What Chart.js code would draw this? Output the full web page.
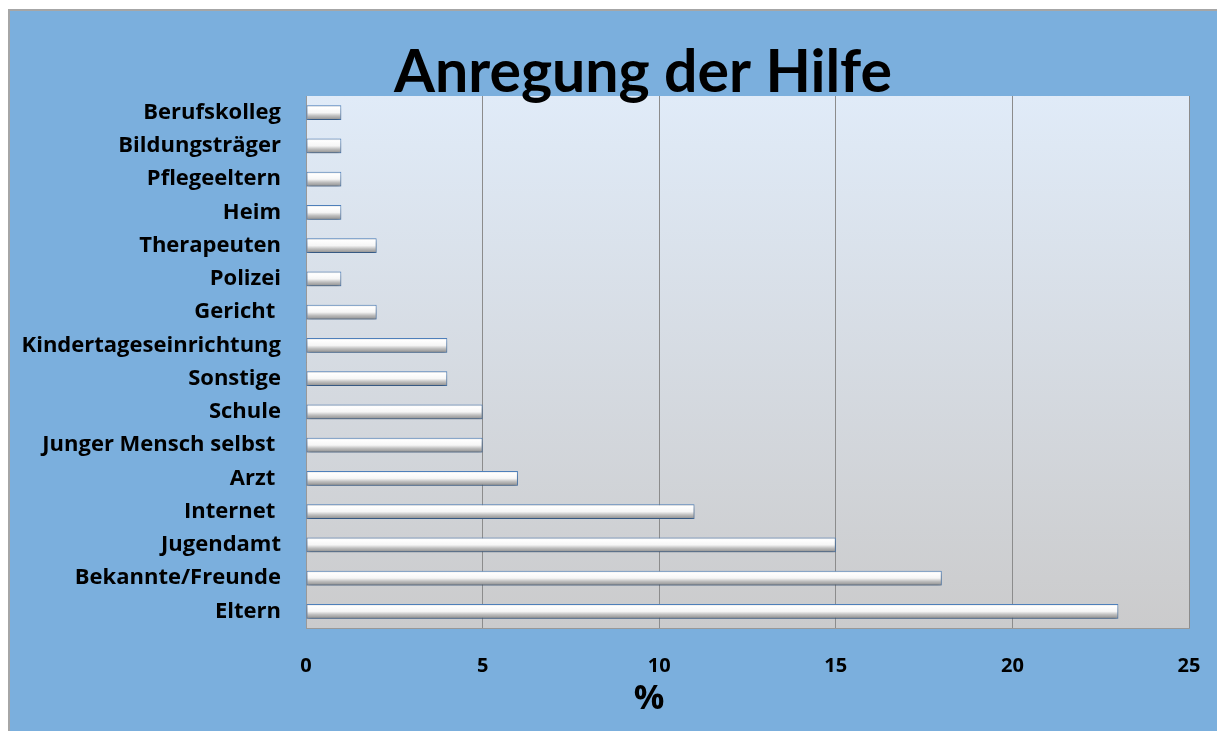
<!DOCTYPE html>
<html>
<head>
<meta charset="utf-8">
<script src="https://cdn.jsdelivr.net/npm/chart.js@4/dist/chart.umd.min.js"></script>
<style>
  html, body { margin: 0; padding: 0; background: #fff; }
  canvas { display: block; }
</style>
</head>
<body>
<canvas id="myChart" width="1217" height="731"></canvas>
<script>
const titleText = "Anregung der Hilfe";
const axisTitle = "%";

const categories = [
  "Berufskolleg",
  "Bildungsträger",
  "Pflegeeltern",
  "Heim",
  "Therapeuten",
  "Polizei",
  "Gericht ",
  "Kindertageseinrichtung",
  "Sonstige",
  "Schule",
  "Junger Mensch selbst ",
  "Arzt ",
  "Internet ",
  "Jugendamt",
  "Bekannte/Freunde",
  "Eltern",
];
const values = [1, 1, 1, 1, 2, 1, 2, 4, 4, 5, 5, 6, 11, 15, 18, 23];
const xTicks = [0, 5, 10, 15, 20, 25];

const TITLE_FONT = "Lato, 'Open Sans', sans-serif";
const FONT = "'Open Sans', Lato, sans-serif";

const backdrop = {
  id: "backdrop",
  beforeDraw(chart) {
    const { ctx, chartArea: a } = chart;
    ctx.save();
    ctx.fillStyle = "#ffffff";
    ctx.fillRect(0, 0, chart.width, chart.height);
    ctx.fillStyle = "#7bafdd";
    ctx.fillRect(9, 10, chart.width - 9, chart.height - 10);
    ctx.strokeStyle = "#a6a6a6";
    ctx.lineWidth = 2;
    ctx.beginPath();
    ctx.moveTo(9, chart.height);
    ctx.lineTo(9, 10);
    ctx.lineTo(chart.width, 10);
    ctx.stroke();
    const g = ctx.createLinearGradient(0, a.top, 0, a.bottom);
    g.addColorStop(0, "#e0ebf8");
    g.addColorStop(1, "#cbcbcc");
    ctx.fillStyle = g;
    ctx.fillRect(a.left, a.top, a.right - a.left, a.bottom - a.top);
    ctx.restore();
  },
  beforeDatasetsDraw(chart) {
    const ctx = chart.ctx;
    ctx.save();
    ctx.shadowColor = "rgba(0,0,0,0.35)";
    ctx.shadowBlur = 4;
    ctx.shadowOffsetY = 3;
  },
  afterDatasetsDraw(chart) {
    chart.ctx.restore();
  },
  afterDraw(chart) {
    const ctx = chart.ctx;
    ctx.save();
    ctx.fillStyle = "#000";
    ctx.textAlign = "center";
    ctx.textBaseline = "alphabetic";
    ctx.font = "bold 59px " + TITLE_FONT;
    ctx.fillText(titleText, 643, 92);
    ctx.font = "bold 34px " + FONT;
    ctx.textBaseline = "middle";
    ctx.fillText(axisTitle, 649, 699);
    ctx.restore();
  },
};

function barFill(c) {
  const chart = c.chart;
  if (!chart.chartArea || !chart.scales.y) return "#e6e6e6";
  const y = chart.scales.y.getPixelForValue(c.dataIndex);
  const g = chart.ctx.createLinearGradient(0, y - 7.5, 0, y + 7.5);
  g.addColorStop(0, "#d0d0d0");
  g.addColorStop(0.15, "#ffffff");
  g.addColorStop(0.5, "#f6f6f6");
  g.addColorStop(0.72, "#bdbdbd");
  g.addColorStop(1, "#8a8a8a");
  return g;
}

new Chart(document.getElementById("myChart"), {
  type: "bar",
  data: {
    labels: categories,
    datasets: [
      {
        data: values,
        backgroundColor: barFill,
        borderColor: "#4f81bd",
        borderWidth: 1,
        borderSkipped: false,
        barPercentage: 0.45,
        categoryPercentage: 1,
      },
    ],
  },
  options: {
    indexAxis: "y",
    responsive: false,
    animation: false,
    devicePixelRatio: 1,
    layout: { padding: { left: 0, right: 28, top: 96, bottom: 0 } },
    plugins: {
      legend: { display: false },
      title: { display: false },
      tooltip: { enabled: false },
    },
    scales: {
      x: {
        min: 0,
        max: 25,
        afterBuildTicks(s) {
          s.ticks = xTicks.map((v) => ({ value: v }));
        },
        afterFit(s) {
          s.height = 103;
          s.paddingLeft = 0;
          s.paddingRight = 0;
        },
        grid: { color: "#8c8c8c", lineWidth: 1, drawTicks: false },
        border: { display: true, color: "#999999", width: 1 },
        ticks: {
          color: "#000",
          padding: 26,
          font: { family: FONT, size: 20, weight: "bold" },
        },
      },
      y: {
        afterFit(s) {
          s.width = 306;
          s.paddingTop = 0;
          s.paddingBottom = 0;
        },
        grid: { display: false, drawTicks: false },
        border: { display: true, color: "#999999", width: 1 },
        ticks: {
          color: "#000",
          padding: 25,
          autoSkip: false,
          font: { family: FONT, size: 22, weight: "bold" },
        },
      },
    },
  },
  plugins: [backdrop],
});
</script>
</body>
</html>
